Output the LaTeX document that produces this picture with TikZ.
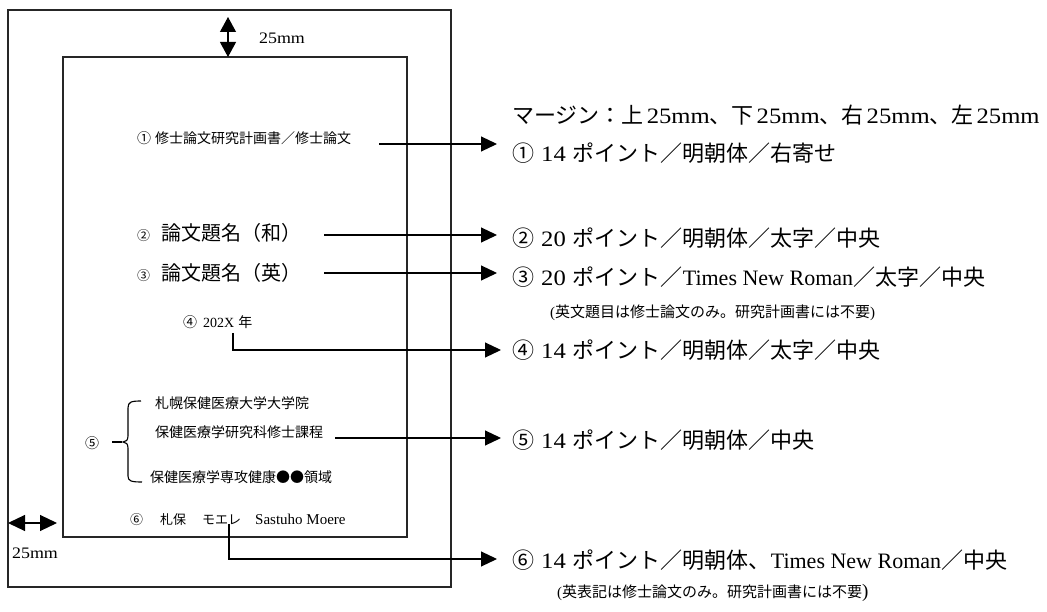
\documentclass[tikz,border=0pt]{standalone}
\usepackage{fontspec}
\setmainfont{Liberation Serif}
\newfontfamily\jp{Noto Sans CJK JP}
\newfontfamily\cen{Liberation Serif}[FakeStretch=1.12]
\usetikzlibrary{arrows.meta}
\newcommand\fs[1]{\fontsize{#1}{#1}\selectfont}
\newcommand\lat[1]{{\rmfamily #1}}
\newcommand\cn[1]{{\cen #1}}
\begin{document}
\begin{tikzpicture}[x=1pt,y=-1pt,
  txt/.style={inner sep=0pt,anchor=west,text=black},
  lbl/.style={inner sep=0pt,text=black},
  ln/.style={line width=1.1pt,draw=black},
  box/.style={line width=1.1pt,draw=black!85},
  arr/.style={ln,-{Triangle[length=16pt,width=15pt]}},
  darrv/.style={ln,{Triangle[length=15pt,width=16pt]}-{Triangle[length=15pt,width=16pt]}},
  darrh/.style={ln,{Triangle[length=17pt,width=16pt]}-{Triangle[length=17pt,width=16pt]}}]
\useasboundingbox (0,0) rectangle (1047,612);
% page and text area
\draw[box] (8,10) rectangle (451,587);
\draw[box] (63,57) rectangle (407,537);
% margin arrows
\coordinate (tmA) at (228,17); \coordinate (tmB) at (228,57);
\draw[darrv] (tmA) -- (tmB);
\node[lbl] (tm) at (282,38) {\fs{16}\cen 25mm};
\coordinate (lmA) at (8,523); \coordinate (lmB) at (57,523);
\draw[darrh] (lmA) -- (lmB);
\node[lbl] (lm) at (35,553) {\fs{16}\cen 25mm};
% left contents
\node[txt] (t1) at (137,138) {\fs{14}\jp ①\hspace{4pt}修士論文研究計画書／修士論文};
\node[txt] (t2) at (137,233) {\fs{13}\jp ②\hspace{11pt}\fs{20}論文題名（和）};
\node[txt] (t3) at (137,273) {\fs{13}\jp ③\hspace{11pt}\fs{20}論文題名（英）};
\node[txt] (t4) at (183,322) {\fs{14}\jp ④\hspace{6pt}\lat{202X}\hspace{4pt}年};
\node[lbl] (n5) at (92,443) {\fs{14}\jp ⑤};
\node[txt] (t5a) at (155,403) {\fs{14}\jp 札幌保健医療大学大学院};
\node[txt] (t5b) at (155,432) {\fs{14}\jp 保健医療学研究科修士課程};
\node[txt] (t5c) at (150,477) {\fs{14}\jp 保健医療学専攻健康●●領域};
\node[txt] (t6) at (130,520) {\fs{13}\jp ⑥\hspace{17pt}札保\hspace{16pt}モエレ\hspace{14pt}\fs{15}\lat{Sastuho Moere}};
% brace
\draw[ln] (141,401) .. controls (131,401) and (128,402) .. (128,408) -- (128,436)
  .. controls (128,440) and (126,442) .. (123,442)
  .. controls (126,442) and (128,444) .. (128,448) -- (128,476)
  .. controls (128,481) and (131,482) .. (142,482);
\coordinate (d5a) at (112,442); \coordinate (d5b) at (122,442);
\draw[line width=1.8pt] (d5a) -- (d5b);
% right contents
\node[txt] (rm) at (512,115) {\fs{22}\jp マージン：上\hspace{3pt}\cn{25mm}、下\hspace{3pt}\cn{25mm}、右\hspace{3pt}\cn{25mm}、左\hspace{3pt}\cn{25mm}};
\node[txt] (r1) at (512,153) {\fs{22}\jp ①\hspace{7pt}\cn{14}\hspace{7pt}ポイント／明朝体／右寄せ};
\node[txt] (r2) at (512,238) {\fs{22}\jp ②\hspace{7pt}\cn{20}\hspace{7pt}ポイント／明朝体／太字／中央};
\node[txt] (r3) at (512,277) {\fs{22}\jp ③\hspace{7pt}\cn{20}\hspace{7pt}ポイント／\lat{Times New Roman}／太字／中央};
\node[txt] (nt1) at (550,313) {\fs{15}\jp \lat{(}英文題目は修士論文のみ。研究計画書には不要\lat{)}};
\node[txt] (r4) at (512,350) {\fs{22}\jp ④\hspace{7pt}\cn{14}\hspace{7pt}ポイント／明朝体／太字／中央};
\node[txt] (r5) at (512,440) {\fs{22}\jp ⑤\hspace{7pt}\cn{14}\hspace{7pt}ポイント／明朝体／中央};
\node[txt] (r6) at (512,560) {\fs{22}\jp ⑥\hspace{7pt}\cn{14}\hspace{7pt}ポイント／明朝体、\lat{Times New Roman}／中央};
\node[txt] (nt2) at (557,593) {\fs{15}\jp \lat{(}英表記は修士論文のみ。研究計画書には不要\lat{\fs{19})}};
% connectors
\coordinate (s1) at (379,144); \coordinate (e1) at (497,144);
\draw[arr] (s1) -- (e1);
\coordinate (s2) at (324,235); \coordinate (e2) at (497,235);
\draw[arr] (s2) -- (e2);
\coordinate (s3) at (324,273); \coordinate (e3) at (497,273);
\draw[arr] (s3) -- (e3);
\coordinate (s4) at (233,333); \coordinate (e4) at (501,350);
\draw[arr] (s4) |- (e4);
\coordinate (s5) at (335,438); \coordinate (e5) at (501,438);
\draw[arr] (s5) -- (e5);
\coordinate (s6) at (229,524); \coordinate (e6) at (497,559);
\draw[arr] (s6) |- (e6);
\end{tikzpicture}
\end{document}
